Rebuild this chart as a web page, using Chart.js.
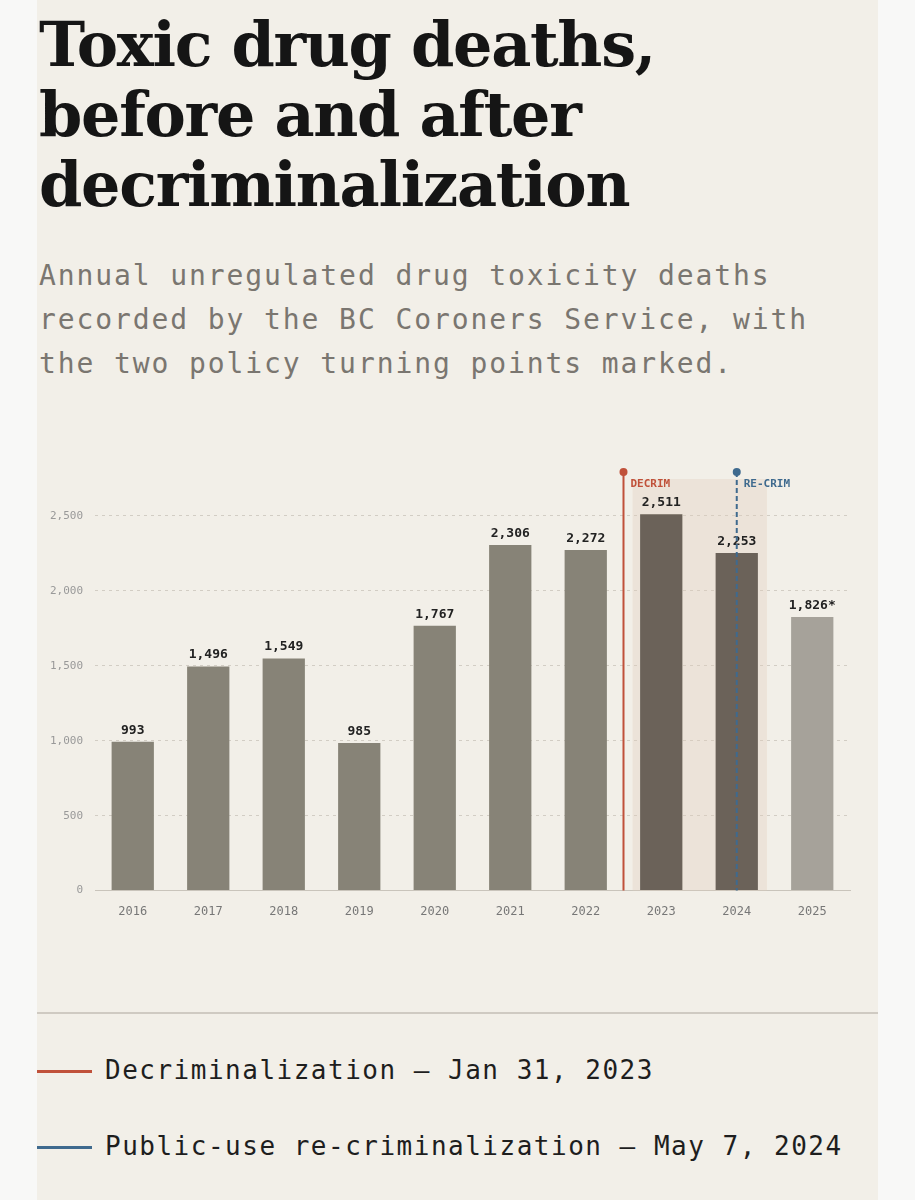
<!DOCTYPE html>
<html><head><meta charset="utf-8">
<script src="https://cdn.jsdelivr.net/npm/chart.js@4"></script>
<style>
body{margin:0;background:#f8f8f7;width:915px;height:1200px;overflow:hidden}
#panel{position:absolute;left:37px;top:0;width:841px;height:1200px;background:#f2efe8}
h1{position:absolute;left:2px;top:10px;margin:0;font:bold 62px/70px "DejaVu Serif",serif;color:#151515;letter-spacing:-1.3px}
#sub{position:absolute;left:2px;top:254px;margin:0;font:28px/44px "DejaVu Sans Mono",monospace;color:#7a7670;letter-spacing:1.9px;width:800px}
#wrap{position:absolute;left:0;top:445px;width:841px;height:480px}
#sep{position:absolute;left:0;top:1012px;width:841px;height:2px;background:#cfcac2}
.lg{position:absolute;left:0;font:26px "DejaVu Sans Mono",monospace;color:#1e1e1e;letter-spacing:1.5px;white-space:nowrap}
.lg span{display:inline-block;width:55px;height:3px;margin-right:13px;vertical-align:middle}
</style></head><body>
<div id="panel">
<h1>Toxic drug deaths,<br>before and after<br>decriminalization</h1>
<p id="sub">Annual unregulated drug toxicity deaths recorded by the BC Coroners Service, with the two policy turning points marked.</p>
<div id="wrap"><canvas id="graph"></canvas></div>
<div id="sep"></div>
<div class="lg" style="top:1055px"><span style="background:#c0513a"></span>Decriminalization — Jan 31, 2023</div>
<div class="lg" style="top:1131px"><span style="background:#3f6a8e"></span>Public-use re-criminalization — May 7, 2024</div>
</div>
<script>
const years = ['2016','2017','2018','2019','2020','2021','2022','2023','2024','2025'];
const deaths = [993, 1496, 1549, 985, 1767, 2306, 2272, 2511, 2253, 1826];
const valueLabels = ['993','1,496','1,549','985','1,767','2,306','2,272','2,511','2,253','1,826*'];
const barColors = ['#878377','#878377','#878377','#878377','#878377','#878377','#878377','#6b6259','#6b6259','#a6a29a'];
// policy markers as fractional category positions
const decrimPos = 6.5;
const recrimPos = 8.0;
const shadeFrom = 6.62, shadeTo = 8.4;

const mono = '"DejaVu Sans Mono", monospace';

const markers = {
  id: 'markers',
  beforeDatasetsDraw(chart) {
    const {ctx, scales: {x, y}} = chart;
    const step = x.getPixelForValue(1) - x.getPixelForValue(0);
    const px = v => x.getPixelForValue(0) + v * step;
    ctx.save();
    ctx.fillStyle = 'rgba(225,205,190,0.35)';
    ctx.fillRect(px(shadeFrom), y.top + 14, px(shadeTo) - px(shadeFrom), y.bottom - y.top - 14);
    ctx.restore();
  },
  afterDatasetsDraw(chart) {
    const {ctx, scales: {x, y}} = chart;
    const step = x.getPixelForValue(1) - x.getPixelForValue(0);
    const px = v => x.getPixelForValue(0) + v * step;
    ctx.save();
    ctx.font = 'bold 13px ' + mono;
    ctx.textAlign = 'center';
    ctx.fillStyle = '#222';
    deaths.forEach((d, i) => {
      ctx.fillText(valueLabels[i], x.getPixelForValue(i), y.getPixelForValue(d) - 8);
    });
    const top = y.top + 7;
    ctx.strokeStyle = '#c0513a'; ctx.fillStyle = '#c0513a'; ctx.lineWidth = 2;
    let xd = px(decrimPos);
    ctx.beginPath(); ctx.moveTo(xd, top); ctx.lineTo(xd, y.bottom); ctx.stroke();
    ctx.beginPath(); ctx.arc(xd, top, 4, 0, Math.PI * 2); ctx.fill();
    ctx.font = 'bold 11px ' + mono; ctx.textAlign = 'left';
    ctx.fillText('DECRIM', xd + 7, top + 15);
    let xr = px(recrimPos);
    ctx.strokeStyle = '#3f6a8e'; ctx.fillStyle = '#3f6a8e';
    ctx.setLineDash([5, 3]);
    ctx.beginPath(); ctx.moveTo(xr, top); ctx.lineTo(xr, y.bottom); ctx.stroke();
    ctx.setLineDash([]);
    ctx.beginPath(); ctx.arc(xr, top, 4, 0, Math.PI * 2); ctx.fill();
    ctx.fillText('RE-CRIM', xr + 7, top + 15);
    ctx.restore();
  }
};

new Chart(document.getElementById('graph'), {
  type: 'bar',
  data: {
    labels: years,
    datasets: [{ data: deaths, backgroundColor: barColors, barPercentage: 0.56, categoryPercentage: 1 }]
  },
  options: {
    responsive: true,
    maintainAspectRatio: false,
    animation: false,
    layout: { padding: { top: 20, right: 28 } },
    plugins: { legend: { display: false }, tooltip: { enabled: false } },
    scales: {
      x: {
        grid: { display: false },
        border: { color: '#c9c4bb' },
        ticks: { color: '#777', font: { family: mono, size: 12 }, padding: 6 }
      },
      y: {
        min: 0, max: 2840,
        afterBuildTicks(axis) { axis.ticks = [0, 500, 1000, 1500, 2000, 2500].map(v => ({ value: v })); },
        afterFit(axis) { axis.width = 58; },
        border: { display: false, dash: [3, 4] },
        grid: { color: '#d2cdc4', drawTicks: false },
        ticks: { color: '#999', font: { family: mono, size: 11 }, padding: 12,
          callback: v => v.toLocaleString('en-US') }
      }
    }
  },
  plugins: [markers]
});
</script>
</body></html>
